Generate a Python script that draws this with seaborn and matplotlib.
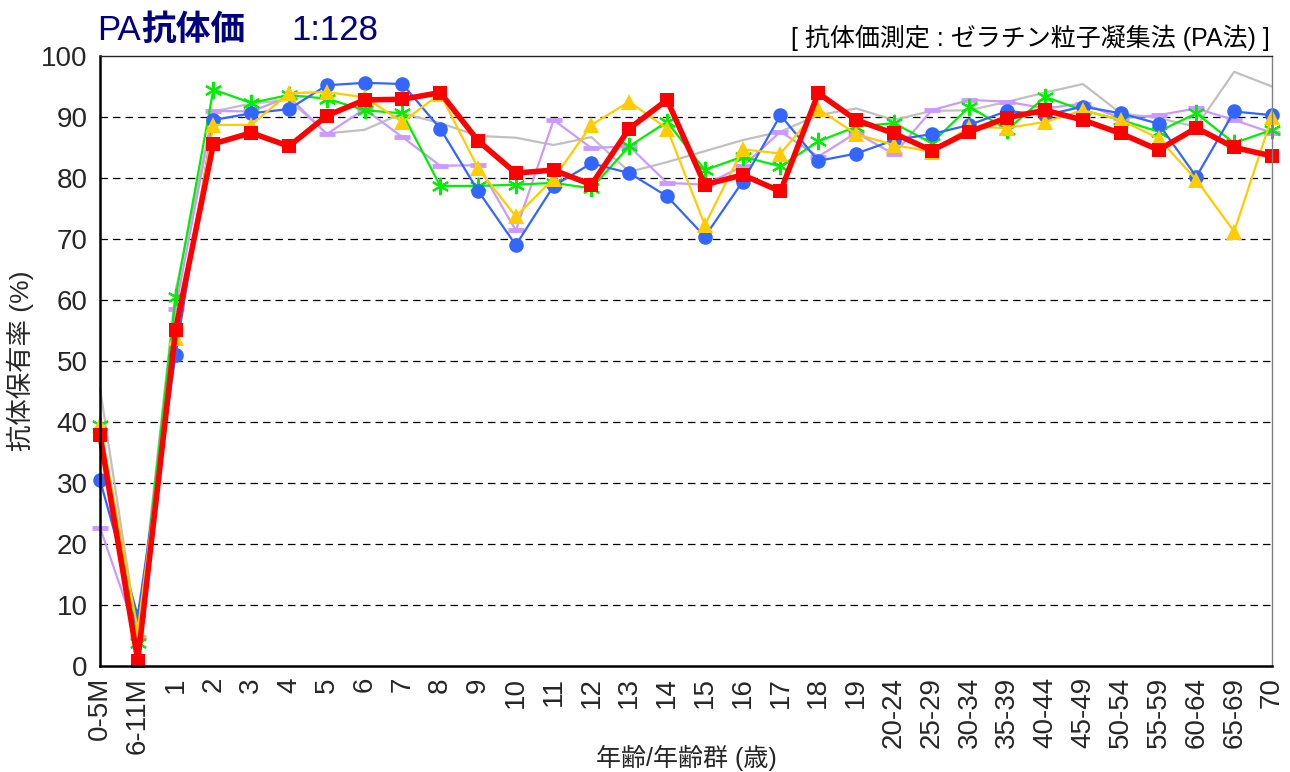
import numpy as np
import seaborn as sns
import matplotlib.pyplot as plt


# 年齢/年齢群
ages = ['0-5M', '6-11M', '1', '2', '3', '4', '5', '6', '7', '8', '9', '10',
        '11', '12', '13', '14', '15', '16', '17', '18', '19',
        '20-24', '25-29', '30-34', '35-39', '40-44', '45-49', '50-54',
        '55-59', '60-64', '65-69', '70']

# 抗体保有率 (%) - 各シーズン
gray_s = [45.5, 5.0, 61.5, 90.9, 92.2, 92.8, 87.3, 87.9, 90.6, 89.0, 86.9, 86.6,
          85.4, 86.7, 81.0, 82.6, 84.4, 86.2, 87.6, 90.3, 91.4,
          89.5, 91.0, 91.1, 92.5, 94.0, 95.4, 90.6, 89.8, 88.4, 97.4, 95.0]
purple_s = [22.7, 4.7, 58.6, 91.0, 90.9, 93.3, 87.2, 91.3, 86.7, 82.0, 82.1, 71.4,
            89.5, 84.9, 85.2, 79.2, 78.9, 81.9, 87.6, 83.5, 87.4,
            83.9, 91.1, 92.8, 92.5, 91.4, 92.2, 89.8, 90.3, 91.4, 89.5, 87.4]
green_s = [39.5, 3.8, 60.5, 94.5, 92.3, 93.6, 93.0, 91.1, 90.6, 78.7, 78.7, 78.9,
           79.2, 78.3, 85.2, 89.2, 81.3, 83.5, 81.9, 86.0, 88.4,
           89.0, 85.7, 91.7, 87.9, 93.3, 91.1, 89.5, 87.6, 90.6, 85.7, 87.9]
blue_s = [30.5, 8.2, 51.0, 89.5, 90.6, 91.3, 95.2, 95.6, 95.4, 88.1, 77.9, 69.0,
          78.7, 82.4, 80.8, 77.0, 70.4, 79.4, 90.3, 82.8, 84.0,
          86.2, 87.2, 88.7, 91.0, 90.3, 91.7, 90.6, 88.9, 80.2, 90.9, 90.3]
yellow_s = [39.5, 5.9, 53.8, 88.7, 88.7, 93.9, 94.1, 93.2, 89.2, 93.8, 81.6, 73.7,
            79.9, 88.7, 92.5, 88.1, 72.3, 84.7, 84.0, 91.3, 87.2,
            85.4, 84.3, 88.4, 88.2, 89.2, 91.1, 89.5, 86.5, 79.7, 71.2, 90.0]
red_s = [37.9, 0.9, 55.1, 85.6, 87.4, 85.2, 90.2, 92.8, 92.9, 94.0, 86.1, 80.8,
         81.3, 78.9, 88.1, 92.8, 78.9, 80.5, 77.8, 93.9, 89.5,
         87.3, 84.5, 87.6, 89.9, 91.1, 89.5, 87.3, 84.6, 88.2, 85.0, 83.6]

sns.set_style('white')
plt.rcParams['font.family'] = ['Liberation Sans', 'Noto Sans CJK JP']

fig = plt.figure(figsize=(12.9, 7.72), dpi=100)
ax = fig.add_axes([0.0775, 0.1373, 0.9085, 0.7902])

x = np.arange(len(ages))

sns.lineplot(x=x, y=gray_s, color='#c0c0c0', linewidth=1.6, ax=ax, clip_on=False)
sns.lineplot(x=x, y=purple_s, color='#cc99ff', linewidth=1.6, marker='_',
             markersize=11, markeredgewidth=3.5, markeredgecolor='#cc99ff',
             ax=ax, clip_on=False)
sns.lineplot(x=x, y=green_s, color='#00ee00', linewidth=1.6, marker=(6, 2, 0),
             markersize=12.5, markeredgewidth=1.5, markeredgecolor='#00ee00',
             ax=ax, clip_on=False)
sns.lineplot(x=x, y=blue_s, color='#3366ff', linewidth=1.6, marker='o',
             markersize=10.5, markeredgewidth=0, ax=ax, clip_on=False)
sns.lineplot(x=x, y=yellow_s, color='#ffcc00', linewidth=1.6, marker='^',
             markersize=11, markeredgewidth=0, ax=ax, clip_on=False)
sns.lineplot(x=x, y=red_s, color='#ff0000', linewidth=4.0, marker='s',
             markersize=10.5, markeredgewidth=0, ax=ax, clip_on=False)

ax.set_xlim(0, len(ages) - 1)
ax.set_ylim(0, 100)
ax.set_yticks(np.arange(0, 101, 10))
ax.set_xticks(x)
ax.set_xticklabels(ages, rotation=90, ha='center', va='top')
ax.tick_params(axis='x', length=0, pad=8, labelsize=20)
ax.tick_params(axis='y', length=0, pad=9, labelsize=20)

for v in range(10, 100, 10):
    ax.axhline(v, color='black', linestyle=(0, (6, 4)), linewidth=0.9, zorder=0)

for side in ['left', 'bottom']:
    ax.spines[side].set_color('black')
    ax.spines[side].set_linewidth(1.8)
ax.spines['top'].set_color('#222222')
ax.spines['top'].set_linewidth(1.0)
ax.spines['right'].set_color('#808080')
ax.spines['right'].set_linewidth(1.0)

ax.set_xlabel('年齢/年齢群 (歳)', fontsize=18)
ax.xaxis.set_label_coords(0.5, -0.13)
ax.set_ylabel('抗体保有率 (%)', fontsize=19, labelpad=5)

# タイトル
fig.text(0.075, 0.948, 'PA', fontsize=25, color='#000080', va='baseline')
fig.text(0.1095, 0.948, '抗体価', fontsize=25, color='#000080',
         fontweight='bold', va='baseline')
fig.text(0.226, 0.948, '1:128', fontsize=25, color='#000080', va='baseline')
fig.text(0.9845, 0.941, '[ 抗体価測定 : ゼラチン粒子凝集法 (PA法) ]',
         fontsize=18, color='black', ha='right', va='baseline')

plt.savefig('out.png', dpi=100)
